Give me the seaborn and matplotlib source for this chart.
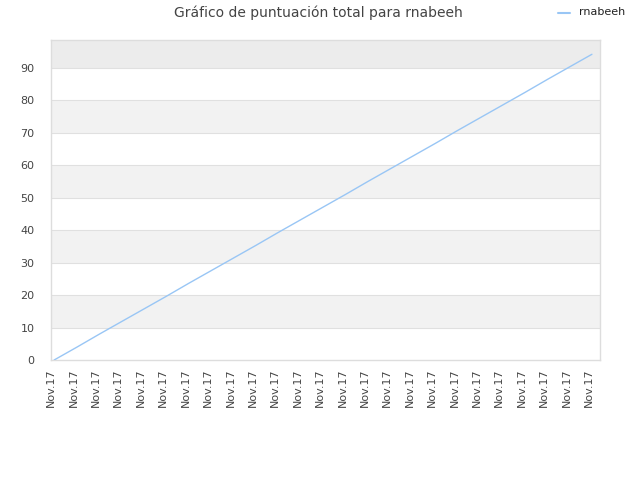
import matplotlib
matplotlib.use("Agg")
import matplotlib.pyplot as plt
import matplotlib.transforms as mtransforms
import seaborn as sns
import pandas as pd

# Data
tick_labels = ["Nov.17"] * 25
scores = [0, 3.9, 7.9, 11.8, 15.7, 19.6, 23.6, 27.5, 31.4, 35.3, 39.3, 43.2, 47.1,
          51.0, 55.0, 58.9, 62.8, 66.7, 70.7, 74.6, 78.5, 82.4, 86.4, 90.3, 94.2]
series_name = "rnabeeh"
title = "Gráfico de puntuación total para rnabeeh"

df = pd.DataFrame({"idx": list(range(len(scores))), "score": scores, "player": series_name})

sns.set_style("white")
plt.rcParams["font.family"] = ["DejaVu Sans"]

fig = plt.figure(figsize=(6.4, 4.8), dpi=100)
ax = fig.add_axes([51 / 640, 120 / 480, 549 / 640, 320 / 480])

ymax = 98.6
# alternating bands
bands = [(0, 10, "white"), (10, 20, "#f2f2f2"), (20, 30, "white"), (30, 40, "#f2f2f2"),
         (40, 50, "white"), (50, 60, "#f2f2f2"), (60, 70, "white"), (70, 80, "#f2f2f2"),
         (80, 90, "white"), (90, ymax, "#ececec")]
for lo, hi, c in bands:
    ax.axhspan(lo, hi, color=c, zorder=0, lw=0)
for yv in range(10, 100, 10):
    ax.axhline(yv, color="#e0e0e0", lw=0.8, zorder=1)

sns.lineplot(data=df, x="idx", y="score", ax=ax, color="#99c6f5", lw=1.0,
             legend=False, zorder=3)

ax.set_xlim(-0.14, 24.36)
ax.set_ylim(0, ymax)
ax.set_yticks(range(0, 100, 10))
ax.set_xticks(range(len(tick_labels)))
ax.set_xticklabels(tick_labels, rotation=90, fontsize=8, color="#444444")
ax.tick_params(axis="y", labelsize=8, labelcolor="#444444", length=0, pad=12)
ax.tick_params(axis="x", length=0, pad=6)
offset = mtransforms.ScaledTranslation(-3 / 100, 0, fig.dpi_scale_trans)
for lbl in ax.get_xticklabels():
    lbl.set_transform(lbl.get_transform() + offset)
ax.set_xlabel("")
ax.set_ylabel("")
for s in ax.spines.values():
    s.set_color("#dddddd")
    s.set_linewidth(1)

fig.text(318 / 640, 1 - 13 / 480, title, ha="center", va="center", fontsize=10, color="#444444")
# legend
fig.lines.append(plt.Line2D([558 / 640, 570 / 640], [1 - 13 / 480, 1 - 13 / 480],
                            transform=fig.transFigure, color="#99c6f5", lw=1.5))
fig.text(579 / 640, 1 - 12 / 480, series_name, ha="left", va="center", fontsize=8, color="#222222")

fig.savefig("out.png", dpi=100)
